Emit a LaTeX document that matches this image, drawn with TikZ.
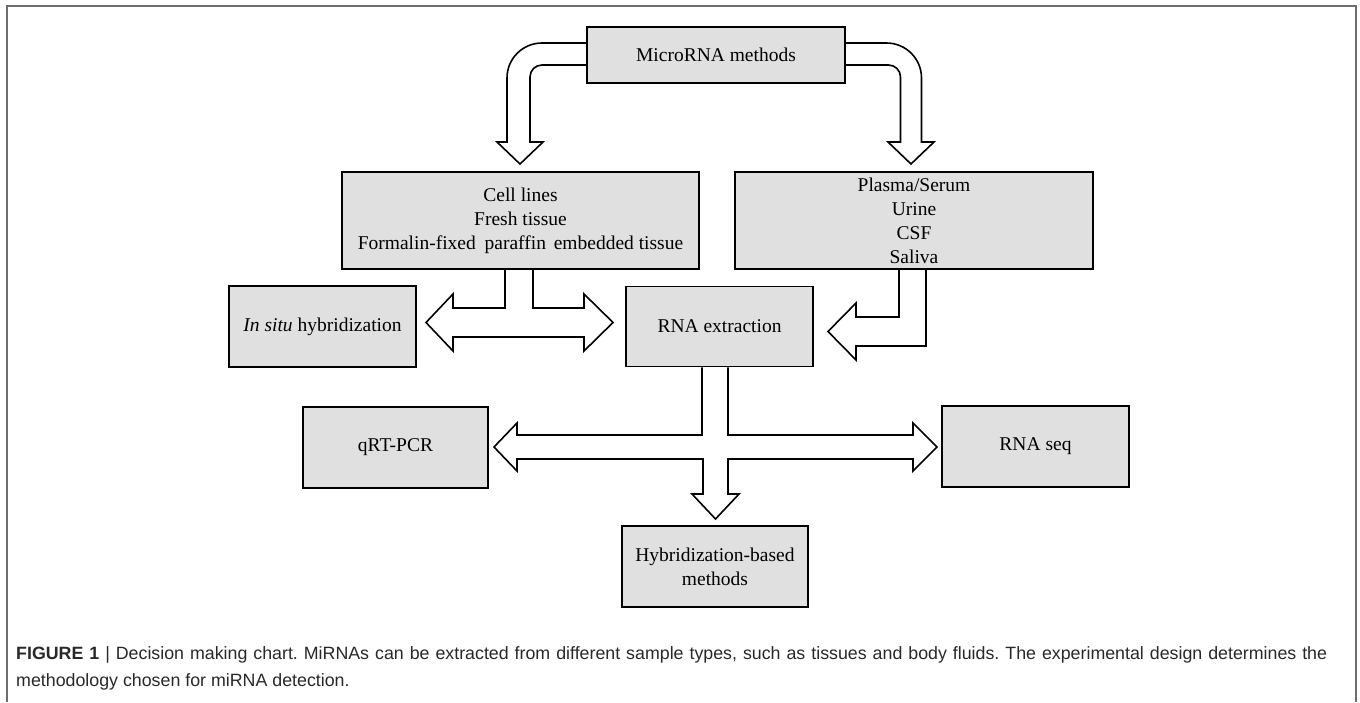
\documentclass[tikz,border=0pt]{standalone}
\usepackage{fontspec}
\setmainfont{Liberation Serif}
\newfontfamily\capfont{Liberation Sans}
\usetikzlibrary{calc}
\pgfdeclarelayer{background}
\pgfsetlayers{background,main}
\definecolor{boxgray}{RGB}{224,224,224}
\definecolor{framegray}{RGB}{110,110,110}
\definecolor{capgray}{RGB}{40,40,40}
\frenchspacing
\begin{document}
\begin{tikzpicture}[x=1pt,y=-1pt,
  box/.style={draw=black, line width=1.8pt, fill=boxgray, inner sep=0pt, align=center,
              font=\fontsize{19.5}{24}\selectfont},
  blockarrow/.style={draw=black, line width=1.6pt, fill=white, line join=miter},
  frameline/.style={draw=framegray, line width=1.5pt},
  captext/.style={anchor=base west, inner sep=0pt, text=capgray, font=\capfont\fontsize{17.8}{20}\selectfont}]
\useasboundingbox (0,0) rectangle (1360,702);
\draw[frameline] (7,702) -- (7,6) -- (1356,6) -- (1356,702);

\node[box, minimum width=258pt, minimum height=56pt] (micro) at (716,55) {MicroRNA methods};
\node[box, minimum width=357pt, minimum height=97pt] (cell) at (520.5,220.5)
  {Cell lines\\Fresh tissue\\Formalin-fixed\hspace{0.45em}paraffin\hspace{0.4em}embedded tissue};
\node[box, minimum width=358pt, minimum height=97pt] (fluid) at (914,220.5)
  {Plasma/Serum\\Urine\\CSF\\Saliva};
\node[box, minimum width=187pt, minimum height=81pt] (insitu) at (322.5,326.5) {\textit{In situ} hybridization};
\node[box, minimum width=187pt, minimum height=80pt] (rnaext) at (719.5,326.5) {RNA extraction};
\node[box, minimum width=185pt, minimum height=81pt] (qrt) at (395.5,447.5) {qRT-PCR};
\node[box, minimum width=187pt, minimum height=81pt] (rnaseq) at (1035.5,446.5) {RNA seq};
\node[box, minimum width=186pt, minimum height=81pt] (hyb) at (715,566.5) {Hybridization-based\\methods};

\begin{pgfonlayer}{background}
% MicroRNA methods -> left branch
\draw[blockarrow] ([yshift=-10pt]micro.west) -- (542,65)
  arc[start angle=-90, end angle=-180, radius=12] -- (530,142) -- (543,142) -- (520,164)
  -- (497,142) -- (507,142) -- (507,78) arc[start angle=180, end angle=270, radius=35]
  -- ([yshift=12pt]micro.west);
% MicroRNA methods -> right branch
\draw[blockarrow] ([yshift=12pt]micro.east) -- (886.5,43)
  arc[start angle=-90, end angle=0, radius=35] -- (921.5,142) -- (934,142) -- (911,164)
  -- (888,142) -- (900.5,142) -- (900.5,77) arc[start angle=0, end angle=-90, radius=12]
  -- ([yshift=-10pt]micro.east);
% Cell lines -> In situ / RNA extraction
\draw[blockarrow] ([xshift=-15.5pt]cell.south) -- (505,308) -- (453,308) -- (453,294) -- (426,322.5)
  -- (453,351) -- (453,337) -- (584,337) -- (584,351) -- (613,322.5) -- (584,294) -- (584,308)
  -- (533,308) -- ([xshift=12.5pt]cell.south);
% Fluids -> RNA extraction
\draw[blockarrow] ([xshift=-15pt]fluid.south) -- (899,317) -- (856,317) -- (856,303) -- (828,331.5)
  -- (856,360) -- (856,346) -- (926,346) -- ([xshift=12pt]fluid.south);
% RNA extraction -> qRT-PCR / RNA seq / Hybridization
\draw[blockarrow] ([xshift=-17.5pt]rnaext.south) -- (702,435) -- (517,435) -- (517,423) -- (494,447)
  -- (517,471) -- (517,459) -- (703,459) -- (703,494) -- (692,494) -- (715.5,519) -- (739,494)
  -- (728,494) -- (728,459) -- (913,459) -- (913,471) -- (937,447) -- (913,423) -- (913,435)
  -- (728,435) -- ([xshift=8.5pt]rnaext.south);
\end{pgfonlayer}

\node[captext] (cap1) at (16,659) {\hbox to 1311pt{\textbf{FIGURE 1} | Decision making chart. MiRNAs can be extracted from different sample types, such as tissues and body fluids. The experimental design determines the}};
\node[captext] (cap2) at (16,686) {methodology chosen for miRNA detection.};
\end{tikzpicture}
\end{document}
